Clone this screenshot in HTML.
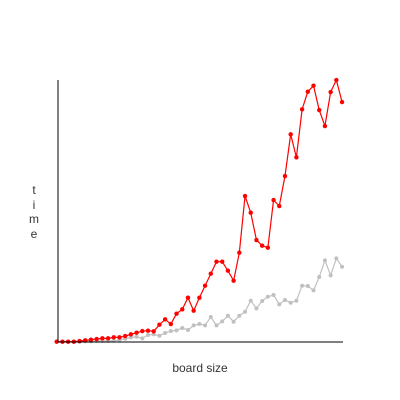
<!DOCTYPE html>
<html><head><meta charset="utf-8"><style>
html,body{margin:0;padding:0;background:#fff;}
svg{display:block;font-family:"Liberation Sans",sans-serif;}
</style></head><body>
<svg width="400" height="400">
<g id="plot"></g>
<line x1="58" y1="80" x2="58" y2="342" stroke="#000" stroke-width="1"/>
<line x1="58" y1="342" x2="343" y2="342" stroke="#000" stroke-width="1"/>
<text x="200" y="372" text-anchor="middle" font-size="12" fill="#333">board size</text>
<g font-size="12" fill="#333" text-anchor="middle">
<text x="34" y="194">t</text><text x="34" y="209">i</text><text x="34" y="223">m</text><text x="34" y="238">e</text>
</g>
</svg>
<script>
const redValues=[0,0,0,0,2,4,6,8,10,10,13,13,17,22,27,32,33,31,51,67,53,84,97,132,93,132,168,204,240,240,213,183,267,437,387,305,288,282,425,407,497,622,553,697,750,768,695,647,749,785,719];
const grayValues=[0,0,0,0,0,1,1,2,2,2,3,5,9,13,15,10,20,22,18,26,32,34,41,35,49,53,49,74,49,61,78,60,78,90,123,100,122,135,140,112,125,117,123,168,167,154,194,244,199,250,225];
const NS="http://www.w3.org/2000/svg";
const g=document.getElementById('plot');
function xs(i){return 56.7+5.707*i;}
function ys(v){return 341.7-v/3;}
function draw(vals,color,r,name){
  const pl=document.createElementNS(NS,'polyline');
  pl.setAttribute('points',vals.map((v,i)=>xs(i)+','+ys(v)).join(' '));
  pl.setAttribute('fill','none');pl.setAttribute('stroke',color);pl.setAttribute('stroke-width','1.2');
  
  
  g.appendChild(pl);
  vals.forEach((v,i)=>{
    const c=document.createElementNS(NS,'circle');
    c.setAttribute('cx',xs(i));c.setAttribute('cy',ys(v));c.setAttribute('r',r);c.setAttribute('fill',color);
    
    
    g.appendChild(c);
  });
}
draw(grayValues,'#c0c0c0',2,'gray-series');
draw(redValues,'#ff0000',2.2,'red-series');
</script>
</body></html>
